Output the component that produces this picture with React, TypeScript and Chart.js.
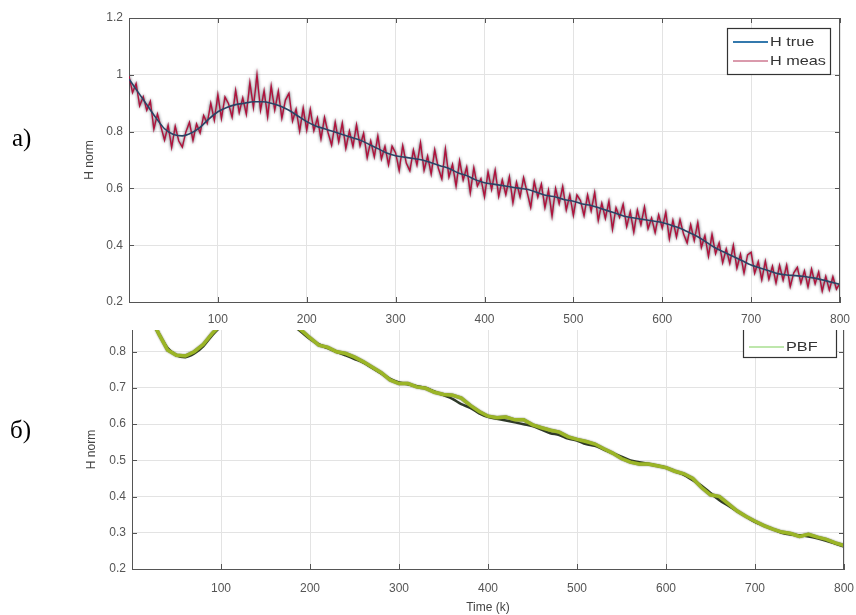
import React, { useEffect, useRef } from "react";
import { Chart, registerables } from "chart.js";

Chart.register(...registerables);

// ---------------- data ----------------
const STEP_TRUE = 10; // k step of H true samples
const STEP_MEAS = 4; // k step of H meas samples
const STEP_PBF = 10; // k step of PBF samples

const H_TRUE = [
  0.985, 0.94, 0.895, 0.85, 0.81, 0.79, 0.785, 0.795, 0.815, 0.845,
  0.87, 0.885, 0.895, 0.9, 0.905, 0.905, 0.9, 0.89, 0.875, 0.855,
  0.835, 0.82, 0.81, 0.8, 0.79, 0.78, 0.77, 0.755, 0.74, 0.725,
  0.715, 0.71, 0.705, 0.7, 0.69, 0.68, 0.67, 0.655, 0.645, 0.63,
  0.62, 0.615, 0.61, 0.605, 0.6, 0.595, 0.585, 0.575, 0.57, 0.56,
  0.555, 0.545, 0.54, 0.53, 0.52, 0.51, 0.5, 0.495, 0.49, 0.485,
  0.48, 0.47, 0.46, 0.445, 0.43, 0.41, 0.39, 0.375, 0.36, 0.345,
  0.33, 0.32, 0.31, 0.3, 0.295, 0.293, 0.29, 0.285, 0.278, 0.27, 0.262,
];

const H_MEAS = [
  0.995, 0.937, 0.969, 0.891, 0.923, 0.875, 0.907, 0.809, 0.862, 0.816,
  0.77, 0.822, 0.744, 0.819, 0.767, 0.745, 0.799, 0.833, 0.769, 0.827,
  0.795, 0.857, 0.829, 0.9, 0.84, 0.93, 0.846, 0.922, 0.898, 0.851,
  0.945, 0.867, 0.919, 0.861, 0.973, 0.885, 1.0, 0.875, 0.944, 0.852,
  0.96, 0.876, 0.942, 0.847, 0.911, 0.935, 0.837, 0.879, 0.801, 0.883,
  0.805, 0.879, 0.803, 0.848, 0.774, 0.85, 0.796, 0.752, 0.833, 0.764,
  0.83, 0.741, 0.802, 0.748, 0.824, 0.75, 0.794, 0.708, 0.767, 0.711,
  0.785, 0.704, 0.748, 0.683, 0.749, 0.725, 0.663, 0.751, 0.689, 0.662,
  0.735, 0.683, 0.761, 0.663, 0.714, 0.65, 0.736, 0.672, 0.633, 0.739,
  0.64, 0.684, 0.608, 0.698, 0.629, 0.675, 0.584, 0.673, 0.608, 0.634,
  0.57, 0.658, 0.596, 0.664, 0.572, 0.63, 0.578, 0.641, 0.549, 0.622,
  0.57, 0.638, 0.586, 0.533, 0.624, 0.569, 0.615, 0.532, 0.594, 0.502,
  0.6, 0.546, 0.607, 0.524, 0.577, 0.505, 0.577, 0.557, 0.504, 0.577,
  0.52, 0.586, 0.487, 0.548, 0.494, 0.555, 0.456, 0.532, 0.498, 0.544,
  0.465, 0.518, 0.446, 0.524, 0.472, 0.535, 0.458, 0.496, 0.444, 0.507,
  0.46, 0.516, 0.422, 0.488, 0.429, 0.49, 0.439, 0.408, 0.472, 0.416,
  0.48, 0.392, 0.434, 0.361, 0.438, 0.37, 0.408, 0.338, 0.387, 0.336,
  0.4, 0.319, 0.368, 0.302, 0.366, 0.375, 0.301, 0.342, 0.278, 0.344,
  0.28, 0.326, 0.267, 0.329, 0.277, 0.33, 0.254, 0.303, 0.322, 0.266,
  0.31, 0.253, 0.316, 0.264, 0.306, 0.238, 0.29, 0.242, 0.289, 0.245,
  0.267,
];

const H_PBF = [
  0.98, 0.94, 0.9, 0.85, 0.805, 0.79, 0.788, 0.8, 0.82, 0.85,
  0.875, 0.89, 0.9, 0.905, 0.91, 0.905, 0.9, 0.892, 0.878, 0.86,
  0.838, 0.818, 0.812, 0.8, 0.795, 0.785, 0.772, 0.757, 0.742, 0.722,
  0.712, 0.712, 0.703, 0.699, 0.688, 0.682, 0.68, 0.672, 0.652, 0.635,
  0.622, 0.618, 0.62, 0.612, 0.612, 0.598, 0.59, 0.583, 0.578, 0.565,
  0.558, 0.552, 0.545, 0.532, 0.52, 0.505, 0.495, 0.49, 0.49, 0.485,
  0.48, 0.47, 0.463, 0.45, 0.425, 0.405, 0.4, 0.38, 0.36, 0.345,
  0.332, 0.32, 0.31, 0.302, 0.298, 0.29, 0.296, 0.288, 0.282, 0.272, 0.265,
];

const X_MIN = 0;
const X_MAX = 800;
const X_STEP = 100;
const TOP_Y = { min: 0.2, max: 1.2, step: 0.2 };
const BOT_Y = { min: 0.2, max: 0.86, step: 0.1 };

const toPoints = (arr: number[], step: number) =>
  arr.map((y, i) => ({ x: i * step, y }));

// ---------------- plugins ----------------
const FONT = '"Liberation Sans", Arial, sans-serif';

const shadowPlugin = {
  id: "lineShadow",
  beforeDatasetDraw(chart: any, args: any) {
    const ds: any = chart.data.datasets[args.index];
    if (ds.shadowColor) {
      chart.ctx.save();
      chart.ctx.shadowColor = ds.shadowColor;
      chart.ctx.shadowBlur = ds.shadowBlur ?? 2;
    }
  },
  afterDatasetDraw(chart: any, args: any) {
    const ds: any = chart.data.datasets[args.index];
    if (ds.shadowColor) chart.ctx.restore();
  },
};

const framePlugin = (drawTop: boolean) => ({
  id: "frame",
  afterDraw(chart: any) {
    const { ctx, chartArea: a, scales } = chart;
    ctx.save();
    ctx.strokeStyle = "#555";
    ctx.lineWidth = 1;
    ctx.beginPath();
    if (drawTop) {
      ctx.moveTo(a.left, a.top + 0.5);
      ctx.lineTo(a.right, a.top + 0.5);
    }
    ctx.moveTo(a.right - 0.5, a.top);
    ctx.lineTo(a.right - 0.5, a.bottom);
    scales.x.ticks.forEach((t: any) => {
      const px = Math.round(scales.x.getPixelForValue(t.value)) + 0.5;
      ctx.moveTo(px, a.bottom);
      ctx.lineTo(px, a.bottom - 5);
      if (drawTop) {
        ctx.moveTo(px, a.top);
        ctx.lineTo(px, a.top + 5);
      }
    });
    scales.y.ticks.forEach((t: any) => {
      const py = Math.round(scales.y.getPixelForValue(t.value)) + 0.5;
      ctx.moveTo(a.left, py);
      ctx.lineTo(a.left + 5, py);
      ctx.moveTo(a.right, py);
      ctx.lineTo(a.right - 5, py);
    });
    ctx.stroke();
    ctx.restore();
  },
});

type LegendEntry = { text: string; color: string; width: number; y: number };
const legendPlugin = (
  box: { x: number; y: number; w: number; h: number },
  entries: LegendEntry[]
) => ({
  id: "boxLegend",
  afterDraw(chart: any) {
    const ctx = chart.ctx;
    ctx.save();
    ctx.fillStyle = "#fff";
    ctx.fillRect(box.x, box.y, box.w, box.h);
    ctx.strokeStyle = "#333";
    ctx.lineWidth = 1.2;
    ctx.strokeRect(box.x + 0.5, box.y + 0.5, box.w, box.h);
    entries.forEach((e) => {
      ctx.strokeStyle = e.color;
      ctx.lineWidth = e.width;
      ctx.beginPath();
      ctx.moveTo(box.x + 6, e.y);
      ctx.lineTo(box.x + 41, e.y);
      ctx.stroke();
      ctx.save();
      ctx.translate(box.x + 43, e.y);
      ctx.scale(1.25, 1);
      ctx.fillStyle = "#333";
      ctx.font = `13px ${FONT}`;
      ctx.textBaseline = "middle";
      ctx.fillText(e.text, 0, 0);
      ctx.restore();
    });
    ctx.restore();
  },
});

const tickFmt = (v: any) => String(Math.round(Number(v) * 10) / 10);

const makeScales = (
  yr: { min: number; max: number; step: number },
  xHeight: number,
  yWidth: number,
  xPad: number,
  xTitle: string | null
) => ({
  x: {
    type: "linear",
    min: X_MIN,
    max: X_MAX,
    ticks: {
      stepSize: X_STEP,
      autoSkip: false,
      maxRotation: 0,
      padding: xPad,
      color: "#555",
      font: { size: 12, family: FONT },
      callback: (v: any) => (Number(v) === 0 ? "" : String(v)),
    },
    grid: { color: "#e3e3e3", drawTicks: false },
    border: { color: "#555", width: 1 },
    title: xTitle
      ? {
          display: true,
          text: xTitle,
          color: "#444",
          font: { size: 12, family: FONT },
          padding: 0,
        }
      : { display: false },
    afterFit: (s: any) => {
      s.height = xHeight;
      s.paddingLeft = 0;
      s.paddingRight = 0;
    },
  },
  y: {
    type: "linear",
    min: yr.min,
    max: yr.max,
    ticks: {
      stepSize: yr.step,
      includeBounds: false,
      padding: 6,
      color: "#555",
      font: { size: 12, family: FONT },
      callback: tickFmt,
    },
    grid: { color: "#e3e3e3", drawTicks: false },
    border: { color: "#555", width: 1 },
    title: {
      display: true,
      text: "H norm",
      color: "#444",
      font: { size: 12, family: FONT },
      padding: 0,
    },
    afterFit: (s: any) => {
      s.width = yWidth;
      s.paddingTop = 0;
      s.paddingBottom = 0;
    },
  },
});

// ---------------- component ----------------
export default function App() {
  const topRef = useRef<HTMLCanvasElement>(null);
  const botRef = useRef<HTMLCanvasElement>(null);

  useEffect(() => {
    document.body.style.margin = "0";
    const top = new Chart(topRef.current as HTMLCanvasElement, {
      type: "line",
      data: {
        datasets: [
          {
            label: "H true",
            data: toPoints(H_TRUE, STEP_TRUE),
            borderColor: "#2a4466",
            borderWidth: 1.6,
            pointRadius: 0,
            cubicInterpolationMode: "monotone",
          } as any,
          {
            label: "H meas",
            data: toPoints(H_MEAS, STEP_MEAS),
            borderColor: "#b0123c",
            borderWidth: 1.4,
            pointRadius: 0,
            tension: 0,
            shadowColor: "rgba(40,40,55,0.9)",
            shadowBlur: 3,
          } as any,
        ],
      },
      options: {
        responsive: false,
        animation: false,
        layout: { padding: { left: 82, top: 18, right: 16, bottom: 0 } },
        plugins: { legend: { display: false }, tooltip: { enabled: false } },
        scales: makeScales(TOP_Y, 28, 47, 10, null) as any,
      },
      plugins: [
        shadowPlugin,
        framePlugin(true),
        legendPlugin({ x: 727, y: 28, w: 103, h: 46 }, [
          { text: "H true", color: "#3479ad", width: 2.2, y: 42 },
          { text: "H meas", color: "#b5375a", width: 1, y: 61 },
        ]),
      ],
    });

    const bot = new Chart(botRef.current as HTMLCanvasElement, {
      type: "line",
      data: {
        datasets: [
          {
            label: "PBF",
            data: toPoints(H_PBF, STEP_PBF),
            borderColor: "#9bb526",
            borderWidth: 3.5,
            pointRadius: 0,
            tension: 0,
            shadowColor: "rgba(60,70,20,0.85)",
            shadowBlur: 1.5,
          } as any,
          {
            label: "H true",
            data: toPoints(H_TRUE, STEP_TRUE),
            borderColor: "#2f3a2a",
            borderWidth: 2.5,
            pointRadius: 0,
            cubicInterpolationMode: "monotone",
          } as any,
        ],
      },
      options: {
        responsive: false,
        animation: false,
        layout: { padding: { left: 84, top: 0, right: 12, bottom: 0 } },
        plugins: { legend: { display: false }, tooltip: { enabled: false } },
        scales: makeScales(BOT_Y, 46, 48, 12, "Time (k)") as any,
      },
      plugins: [
        shadowPlugin,
        framePlugin(false),
        legendPlugin({ x: 743, y: -4, w: 93, h: 31 }, [
          { text: "PBF", color: "#7fcf5a", width: 1.2, y: 17 },
        ]),
      ],
    });

    return () => {
      top.destroy();
      bot.destroy();
    };
  }, []);

  const labelStyle: React.CSSProperties = {
    position: "absolute",
    fontFamily: '"Liberation Serif", "Times New Roman", serif',
    fontSize: 25,
    color: "#000",
    lineHeight: "28px",
  };

  return (
    <div
      style={{
        position: "absolute",
        left: 0,
        top: 0,
        width: 856,
        height: 615,
        background: "#fff",
        overflow: "hidden",
      }}
    >
      <canvas
        ref={topRef}
        width={856}
        height={330}
        style={{ position: "absolute", left: 0, top: 0, width: 856, height: 330 }}
      />
      <canvas
        ref={botRef}
        width={856}
        height={285}
        style={{ position: "absolute", left: 0, top: 330, width: 856, height: 285 }}
      />
      <div style={{ ...labelStyle, left: 12, top: 124 }}>a)</div>
      <div style={{ ...labelStyle, left: 10, top: 416 }}>б)</div>
    </div>
  );
}
